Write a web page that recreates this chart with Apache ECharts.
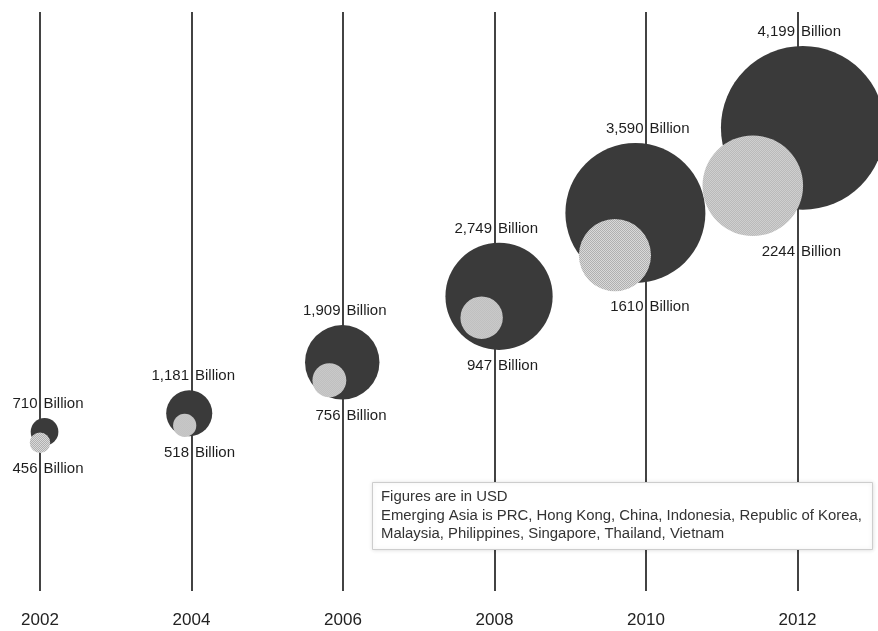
<!DOCTYPE html>
<html>
<head>
<meta charset="utf-8">
<title>Emerging Asia</title>
<script src="https://cdn.jsdelivr.net/npm/echarts@6/dist/echarts.min.js"></script>
<style>
    html, body { margin: 0; padding: 0; background: #fff; }
    #chart { width: 878px; height: 631px; }
</style>
</head>
<body>
<div id="chart"></div>
<script>
'use strict';

// ---------------- data ----------------
const years = [2002, 2004, 2006, 2008, 2010, 2012];
const yearLabels = ['2002', '2004', '2006', '2008', '2010', '2012'];
// total (dark bubbles), billion USD
const totals = [710, 1181, 1909, 2749, 3590, 4199];
// emerging asia (hatched bubbles), billion USD
const emerging = [456, 518, 756, 947, 1610, 2244];

// ---------------- layout ----------------
// height of the bubble centres on a hidden 0..100 axis
const totalLevel = [27.5, 30.7, 39.5, 50.9, 65.3, 80.0];
const emergingLevel = [25.6, 28.6, 36.4, 47.2, 58.0, 70.0];
// shift of the bubble centres from their year line, in years
const totalShift = [0.06, -0.03, -0.01, 0.06, -0.14, 0.07];
const emergingShift = [0, -0.09, -0.18, -0.17, -0.41, -0.59];

const FONT = '"Liberation Sans", Arial, sans-serif';

// radius in px from the value
const rTotal = v => v * 0.0195;
const rEmerging = v => v * 0.0224;

// small checker tile for the hatched bubbles
let tile = document.createElement('canvas');
tile.width = 2;
tile.height = 2;
let tctx = tile.getContext('2d');
tctx.fillStyle = '#e6e6e6';
tctx.fillRect(0, 0, 2, 2);
tctx.fillStyle = '#a4a4a4';
tctx.fillRect(0, 0, 1, 1);
tctx.fillRect(1, 1, 1, 1);

let totalData = [];
let emergingData = [];

years.forEach((y, i) => {
    totalData.push([y + totalShift[i], totalLevel[i], totals[i]]);

    // symbols are scaled by size/2, so scale the tile back down
    let d = rEmerging(emerging[i]) * 2;
    emergingData.push({
        value: [y + emergingShift[i], emergingLevel[i], emerging[i]],
        itemStyle: {
            color: { image: tile, repeat: 'repeat', scaleX: 2 / d, scaleY: 2 / d }
        }
    });
});

// label text: number left of the year line, "Billion" right of it
function labelSeries(id, side, fmt) {
    return {
        id: id,
        type: 'scatter',
        data: [],
        symbolSize: 1,
        silent: true,
        clip: false,
        z: 5,
        itemStyle: { color: 'rgba(0,0,0,0)', opacity: 1 },
        label: {
            show: true,
            position: side,
            distance: side == 'left' ? 2 : 3,
            formatter: fmt,
            fontFamily: FONT,
            fontSize: 15,
            color: '#1e1e1e',
            opacity: 1
        }
    };
}

let option = {
    backgroundColor: '#fff',
    animation: false,
    grid: { left: 40, right: 80.5, top: 12, bottom: 40 },
    xAxis: {
        type: 'value',
        min: 2002,
        max: 2012,
        interval: 2,
        axisLine: { show: false },
        axisTick: { show: false },
        splitLine: { show: true, lineStyle: { color: '#2e2e2e', width: 1.8 } },
        axisLabel: {
            margin: 21,
            fontFamily: FONT,
            fontSize: 17,
            color: '#222',
            formatter: v => yearLabels[years.indexOf(v)] || ''
        }
    },
    yAxis: { type: 'value', min: 0, max: 100, show: false },
    title: {
        left: 372,
        top: 482,
        text: 'Figures are in USD\nEmerging Asia is PRC, Hong Kong, China, Indonesia, Republic of Korea,\nMalaysia, Philippines, Singapore, Thailand, Vietnam',
        backgroundColor: '#fff',
        borderColor: '#cdcdcd',
        borderWidth: 1,
        padding: [6, 11, 6, 9],
        shadowBlur: 4,
        shadowColor: 'rgba(0,0,0,0.12)',
        textStyle: {
            fontFamily: FONT,
            fontSize: 14.9,
            fontWeight: 'normal',
            color: '#333',
            lineHeight: 18.5
        }
    },
    series: [
        {
            name: 'Total',
            type: 'scatter',
            data: totalData,
            symbolSize: d => rTotal(d[2]) * 2,
            silent: true,
            clip: false,
            z: 2,
            itemStyle: { color: '#3a3a3a', opacity: 1 }
        },
        {
            name: 'Emerging Asia',
            type: 'scatter',
            data: emergingData,
            symbolSize: d => rEmerging(d[2]) * 2,
            silent: true,
            clip: false,
            z: 3,
            itemStyle: { opacity: 1 }
        },
        labelSeries('tNum', 'left', p => p.value[2].toLocaleString('en-US')),
        labelSeries('tUnit', 'right', () => 'Billion'),
        labelSeries('eNum', 'left', p => String(p.value[2])),
        labelSeries('eUnit', 'right', () => 'Billion')
    ]
};

let chart = echarts.init(document.getElementById('chart'));
chart.setOption(option);

// place the labels above / below the pair of bubbles, on the year line
let topLabels = [];
let bottomLabels = [];
years.forEach((y, i) => {
    let pt = chart.convertToPixel({ gridIndex: 0 }, [y, totalLevel[i]])[1];
    let pe = chart.convertToPixel({ gridIndex: 0 }, [y, emergingLevel[i]])[1];
    let top = Math.min(pt - rTotal(totals[i]), pe - rEmerging(emerging[i]));
    let bottom = Math.max(pt + rTotal(totals[i]), pe + rEmerging(emerging[i]));

    topLabels.push({
        value: [y, totalLevel[i], totals[i]],
        label: { offset: [0, top - 14 - pt] }
    });
    bottomLabels.push({
        value: [y, emergingLevel[i], emerging[i]],
        label: { offset: [0, bottom + 16 - pe] }
    });
});

chart.setOption({
    series: [
        { id: 'tNum', data: topLabels },
        { id: 'tUnit', data: topLabels },
        { id: 'eNum', data: bottomLabels },
        { id: 'eUnit', data: bottomLabels }
    ]
});
</script>
</body>
</html>
